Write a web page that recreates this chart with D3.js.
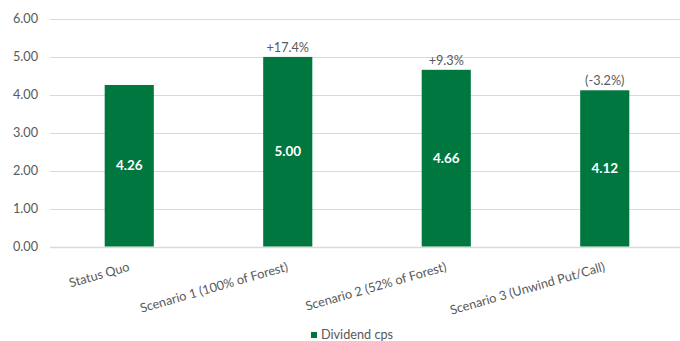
<!DOCTYPE html>
<html>
<head>
<meta charset="utf-8">
<script src="https://cdn.jsdelivr.net/npm/d3@7"></script>
<style>
  html, body { margin: 0; padding: 0; background: #fff; }
  svg { display: block; font-family: Lato, "Open Sans", sans-serif; }
</style>
</head>
<body>
<svg id="chart" width="680" height="341"></svg>
<script>
// Dividend cents per share under each scenario
const categories = ["Status Quo", "Scenario 1 (100% of Forest)", "Scenario 2 (52% of Forest)", "Scenario 3 (Unwind Put/Call)"];
const dividendCps = [4.26, 5.00, 4.66, 4.12];
const changeLabels = ["", "+17.4%", "+9.3%", "(-3.2%)"];
const yTicks = [0, 1, 2, 3, 4, 5, 6];
const seriesName = "Dividend cps";

const svg = d3.select("#chart");
const margin = { left: 50, right: -4, top: 19, bottom: 95 };
const W = 680, H = 341;

const x = d3.scaleBand()
  .domain(categories)
  .range([margin.left, W - margin.right])
  .paddingInner(0.69)
  .paddingOuter(0.345);

const y = d3.scaleLinear()
  .domain([0, 6])
  .range([H - margin.bottom + 0.5, margin.top]);

const green = "#00773F";
const grey = "#595959";

// Horizontal gridlines
svg.append("g")
  .selectAll("line")
  .data(yTicks)
  .join("line")
  .attr("x1", margin.left)
  .attr("x2", 680)
  .attr("y1", d => Math.round(y(d)) + 0.5)
  .attr("y2", d => Math.round(y(d)) + 0.5)
  .attr("stroke", "#d9d9d9")
  .attr("stroke-width", d => d === 0 ? 1.5 : 1);

// Y-axis tick labels
svg.append("g")
  .selectAll("text")
  .data(yTicks)
  .join("text")
  .attr("x", 38)
  .attr("y", d => y(d))
  .attr("dy", "0.35em")
  .attr("text-anchor", "end")
  .attr("font-size", 12.7)
  .attr("fill", grey)
  .text(d => d3.format(".2f")(d));

// Bars
svg.append("g")
  .selectAll("rect")
  .data(dividendCps)
  .join("rect")
  .attr("x", (d, i) => x(categories[i]))
  .attr("width", x.bandwidth())
  .attr("y", d => y(d))
  .attr("height", d => y(0) - y(d))
  .attr("fill", green);

// Values inside bars
svg.append("g")
  .selectAll("text")
  .data(dividendCps)
  .join("text")
  .attr("x", (d, i) => x(categories[i]) + x.bandwidth() / 2)
  .attr("y", d => (y(d) + y(0)) / 2)
  .attr("dy", "0.35em")
  .attr("text-anchor", "middle")
  .attr("font-size", 13.5)
  .attr("font-weight", "bold")
  .attr("fill", "#fff")
  .text(d => d3.format(".2f")(d));

// Change vs status quo above bars
svg.append("g")
  .selectAll("text")
  .data(dividendCps)
  .join("text")
  .attr("x", (d, i) => x(categories[i]) + x.bandwidth() / 2)
  .attr("y", d => y(d) - 5)
  .attr("text-anchor", "middle")
  .attr("font-size", 12.7)
  .attr("fill", grey)
  .text((d, i) => changeLabels[i]);

// Rotated category labels
svg.append("g")
  .selectAll("text")
  .data(categories)
  .join("text")
  .attr("transform", d => `translate(${x(d) + x.bandwidth() / 2 + 1},${y(0) + 24}) rotate(-16)`)
  .attr("text-anchor", "end")
  .attr("font-size", 12.7)
  .attr("fill", grey)
  .text(d => d);

// Legend
const legend = svg.append("g").attr("transform", "translate(311,331)");
legend.append("rect")
  .attr("width", 6).attr("height", 6).attr("y", 1)
  .attr("fill", green);
legend.append("text")
  .attr("x", 10).attr("y", 8)
  .attr("font-size", 12.7)
  .attr("fill", grey)
  .text(seriesName);
</script>
</body>
</html>
